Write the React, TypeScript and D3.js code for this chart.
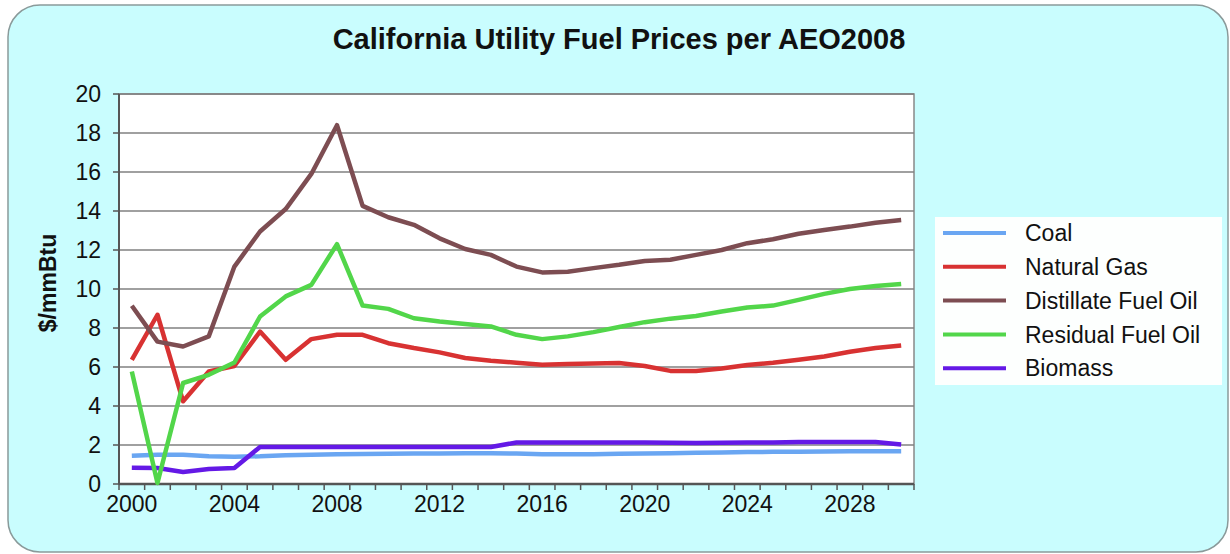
import React from "react";
import * as d3 from "d3";

const years = d3.range(2000, 2031).map(String);
const yTicks = [0, 2, 4, 6, 8, 10, 12, 14, 16, 18, 20];
const xTickLabels = ["2000", "2004", "2008", "2012", "2016", "2020", "2024", "2028"];

const coal = [1.45, 1.5, 1.5, 1.42, 1.4, 1.42, 1.47, 1.5, 1.52, 1.54, 1.55, 1.56, 1.57, 1.58, 1.58, 1.56, 1.52, 1.52, 1.52, 1.55, 1.57, 1.58, 1.6, 1.62, 1.64, 1.65, 1.66, 1.67, 1.68, 1.68, 1.68];
const naturalGas = [6.37, 8.68, 4.24, 5.77, 6.05, 7.82, 6.37, 7.43, 7.65, 7.65, 7.22, 6.97, 6.75, 6.46, 6.32, 6.22, 6.12, 6.15, 6.18, 6.2, 6.05, 5.8, 5.8, 5.92, 6.1, 6.22, 6.37, 6.54, 6.78, 6.97, 7.1];
const distillate = [9.14, 7.3, 7.05, 7.57, 11.15, 12.95, 14.1, 15.9, 18.4, 14.26, 13.68, 13.29, 12.6, 12.05, 11.75, 11.15, 10.85, 10.88, 11.07, 11.24, 11.44, 11.5, 11.75, 12.0, 12.35, 12.55, 12.83, 13.03, 13.2, 13.4, 13.54];
const residual = [5.77, 0.05, 5.18, 5.6, 6.23, 8.59, 9.62, 10.21, 12.3, 9.15, 8.98, 8.5, 8.33, 8.2, 8.08, 7.65, 7.43, 7.57, 7.79, 8.05, 8.3, 8.48, 8.62, 8.85, 9.05, 9.15, 9.44, 9.75, 10.0, 10.15, 10.26];
const biomass = [0.83, 0.82, 0.62, 0.77, 0.82, 1.9, 1.9, 1.9, 1.9, 1.9, 1.9, 1.9, 1.9, 1.9, 1.9, 2.13, 2.13, 2.13, 2.13, 2.13, 2.13, 2.12, 2.1, 2.12, 2.13, 2.13, 2.15, 2.15, 2.15, 2.15, 2.03];

const seriesNames = ["Coal", "Natural Gas", "Distillate Fuel Oil", "Residual Fuel Oil", "Biomass"];
const seriesColors = ["#6aa6f2", "#d83232", "#7d4d52", "#52d64a", "#6419e6"];
const seriesData = [coal, naturalGas, distillate, residual, biomass];

export default function App() {
  const W = 1230, H = 554;
  const left = 119, right = 914, top = 94, bottom = 484;
  const x = d3.scaleBand<string>().domain(years).range([left, right]);
  const y = d3.scaleLinear().domain([0, 20]).range([bottom, top]);
  const line = d3.line<number>()
    .x((_, i) => (x(years[i]) as number) + x.bandwidth() / 2)
    .y((d) => y(d));
  const font = "Arial, 'Liberation Sans', Helvetica, sans-serif";
  const boundaries = d3.range(0, years.length + 1).map((i) => left + i * x.bandwidth());
  const drawOrder = [0, 4, 1, 3, 2];

  return (
    <svg width={W} height={H} style={{ position: "absolute", left: 0, top: 0, display: "block" }} fontFamily={font}>
      <rect x={8} y={5} width={1220} height={547} rx={32} ry={32} fill="#c9fdfe" stroke="#8a9a9a" strokeWidth={1.5} />
      <text x={619} y={49} textAnchor="middle" fontSize={29} fontWeight="bold" fill="#111">
        California Utility Fuel Prices per AEO2008
      </text>
      <rect x={left} y={top} width={right - left} height={bottom - top} fill="#ffffff" stroke="#888" strokeWidth={1.5} />
      {yTicks.map((t) => (
        <g key={t}>
          <line x1={left} x2={right} y1={y(t)} y2={y(t)} stroke="#808080" strokeWidth={1.5} />
          <line x1={left - 6} x2={left} y1={y(t)} y2={y(t)} stroke="#555" strokeWidth={1.5} />
          <text x={left - 18} y={y(t)} dy="0.36em" textAnchor="end" fontSize={23} fill="#111">{t}</text>
        </g>
      ))}
      <line x1={left} x2={left} y1={top} y2={bottom} stroke="#555" strokeWidth={2} />
      <line x1={left} x2={right} y1={bottom} y2={bottom} stroke="#555" strokeWidth={2.5} />
      {boundaries.map((b, i) => (
        <line key={i} x1={b} x2={b} y1={bottom} y2={bottom + 6} stroke="#555" strokeWidth={1.5} />
      ))}
      {xTickLabels.map((lab) => (
        <text key={lab} x={(x(lab) as number) + x.bandwidth() / 2} y={512} textAnchor="middle" fontSize={23} fill="#111">{lab}</text>
      ))}
      <text transform="translate(56,283) rotate(-90)" textAnchor="middle" fontSize={23} fontWeight="bold" fill="#111">$/mmBtu</text>
      {drawOrder.map((k) => (
        <path key={k} d={line(seriesData[k]) || ""} fill="none" stroke={seriesColors[k]} strokeWidth={4.5} strokeLinejoin="round" strokeLinecap="butt" />
      ))}
      <rect x={935} y={217} width={287} height={168} fill="#fdfffe" />
      {seriesNames.map((n, i) => (
        <g key={n}>
          <line x1={943} x2={1006} y1={233 + i * 33.8} y2={233 + i * 33.8} stroke={seriesColors[i]} strokeWidth={4} />
          <text x={1025} y={233 + i * 33.8} dy="0.36em" fontSize={23} fill="#111">{n}</text>
        </g>
      ))}
    </svg>
  );
}
